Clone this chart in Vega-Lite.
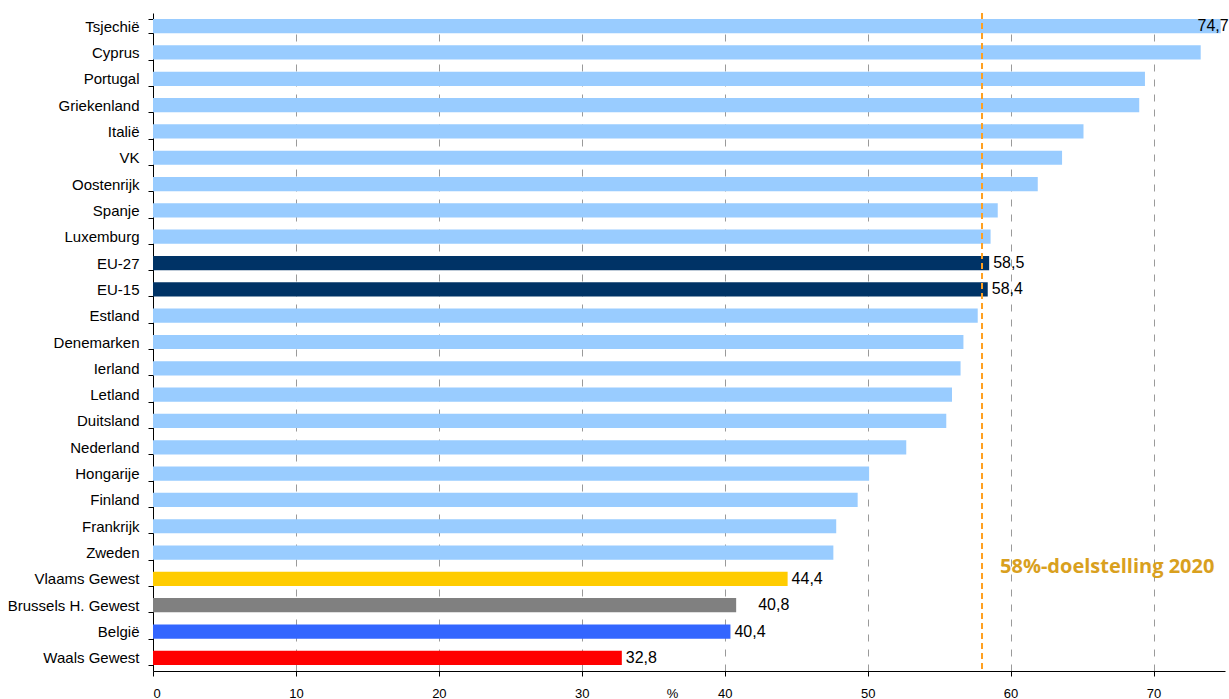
{
  "$schema": "https://vega.github.io/schema/vega-lite/v6.json",
  "width": 1072,
  "height": 658,
  "autosize": {"type": "none"},
  "padding": {"left": 153, "top": 13, "right": 4, "bottom": 28},
  "background": "white",
  "config": {"view": {"stroke": null}, "font": "Liberation Sans"},
  "datasets": {
    "landen": [
      {"land": "Tsjechië", "waarde": 74.7, "groep": "land", "label": "74,7"},
      {"land": "Cyprus", "waarde": 73.3, "groep": "land"},
      {"land": "Portugal", "waarde": 69.4, "groep": "land"},
      {"land": "Griekenland", "waarde": 69.0, "groep": "land"},
      {"land": "Italië", "waarde": 65.1, "groep": "land"},
      {"land": "VK", "waarde": 63.6, "groep": "land"},
      {"land": "Oostenrijk", "waarde": 61.9, "groep": "land"},
      {"land": "Spanje", "waarde": 59.1, "groep": "land"},
      {"land": "Luxemburg", "waarde": 58.6, "groep": "land"},
      {"land": "EU-27", "waarde": 58.5, "groep": "EU", "label": "58,5"},
      {"land": "EU-15", "waarde": 58.4, "groep": "EU", "label": "58,4"},
      {"land": "Estland", "waarde": 57.7, "groep": "land"},
      {"land": "Denemarken", "waarde": 56.7, "groep": "land"},
      {"land": "Ierland", "waarde": 56.5, "groep": "land"},
      {"land": "Letland", "waarde": 55.9, "groep": "land"},
      {"land": "Duitsland", "waarde": 55.5, "groep": "land"},
      {"land": "Nederland", "waarde": 52.7, "groep": "land"},
      {"land": "Hongarije", "waarde": 50.1, "groep": "land"},
      {"land": "Finland", "waarde": 49.3, "groep": "land"},
      {"land": "Frankrijk", "waarde": 47.8, "groep": "land"},
      {"land": "Zweden", "waarde": 47.6, "groep": "land"},
      {"land": "Vlaams Gewest", "waarde": 44.4, "groep": "Vlaanderen", "label": "44,4"},
      {"land": "Brussels H. Gewest", "waarde": 40.8, "groep": "Brussel", "label": "40,8"},
      {"land": "België", "waarde": 40.4, "groep": "België", "label": "40,4"},
      {"land": "Waals Gewest", "waarde": 32.8, "groep": "Wallonië", "label": "32,8"}
    ],
    "doel": [{"doel": 58, "land": "Vlaams Gewest", "tekst": "58%-doelstelling 2020"}]
  },
  "layer": [
    {
      "data": {"name": "landen"},
      "mark": {"type": "bar"},
      "encoding": {
        "y": {
          "field": "land",
          "type": "nominal",
          "sort": null,
          "scale": {"paddingInner": 0.46, "paddingOuter": 0.23},
          "axis": {
            "title": null,
            "domainColor": "black",
            "tickColor": "black",
            "tickSize": 5,
            "tickBand": "extent",
            "labelFontSize": 15,
            "labelColor": "black",
            "labelPadding": 9
          }
        },
        "x": {
          "field": "waarde",
          "type": "quantitative",
          "scale": {"domain": [0, 75], "nice": false},
          "axis": {
            "values": [0, 10, 20, 30, 40, 50, 60, 70],
            "grid": true,
            "gridDash": [7, 8],
            "gridColor": "#9a9a9a",
            "domainColor": "black",
            "tickColor": "black",
            "tickSize": 5,
            "labelFontSize": 13,
            "labelColor": "black",
            "labelPadding": 11,
            "title": "%",
            "titleX": 519,
            "titleY": 16,
            "titleBaseline": "top",
            "titleFontWeight": "normal",
            "titleFontSize": 13,
            "titleColor": "black"
          }
        },
        "color": {
          "field": "groep",
          "type": "nominal",
          "scale": {
            "domain": ["land", "EU", "Vlaanderen", "Brussel", "België", "Wallonië"],
            "range": ["#99CCFF", "#003366", "#FFCC00", "#808080", "#3366FF", "#FF0000"]
          },
          "legend": null
        }
      }
    },
    {
      "data": {"name": "doel"},
      "mark": {"type": "rule", "color": "#FFA020", "strokeWidth": 2, "strokeDash": [6, 4]},
      "encoding": {"x": {"field": "doel", "type": "quantitative"}}
    },
    {
      "data": {"name": "doel"},
      "mark": {"type": "text", "align": "left", "baseline": "middle", "dx": 18, "dy": -12, "font": "Open Sans", "fontWeight": "bold", "fontSize": 20, "color": "#D9A01E"},
      "encoding": {
        "x": {"field": "doel", "type": "quantitative"},
        "y": {"field": "land", "type": "nominal", "sort": null},
        "text": {"field": "tekst"}
      }
    },
    {
      "data": {"name": "landen"},
      "transform": [{"filter": "datum.label && datum.land != 'Tsjechië' && datum.land != 'Brussels H. Gewest'"}],
      "mark": {"type": "text", "align": "left", "baseline": "middle", "dx": 4, "font": "Liberation Sans", "fontSize": 16, "color": "black"},
      "encoding": {
        "x": {"field": "waarde", "type": "quantitative"},
        "y": {"field": "land", "type": "nominal", "sort": null},
        "text": {"field": "label"}
      }
    },
    {
      "data": {"name": "landen"},
      "transform": [{"filter": "datum.land == 'Brussels H. Gewest'"}],
      "mark": {"type": "text", "align": "left", "baseline": "middle", "dx": 22, "font": "Liberation Sans", "fontSize": 16, "color": "black"},
      "encoding": {
        "x": {"field": "waarde", "type": "quantitative"},
        "y": {"field": "land", "type": "nominal", "sort": null},
        "text": {"field": "label"}
      }
    },
    {
      "data": {"name": "landen"},
      "transform": [{"filter": "datum.land == 'Tsjechië'"}],
      "mark": {"type": "text", "align": "right", "baseline": "middle", "dx": 8, "font": "Liberation Sans", "fontSize": 16, "color": "black"},
      "encoding": {
        "x": {"field": "waarde", "type": "quantitative"},
        "y": {"field": "land", "type": "nominal", "sort": null},
        "text": {"field": "label"}
      }
    }
  ]
}
